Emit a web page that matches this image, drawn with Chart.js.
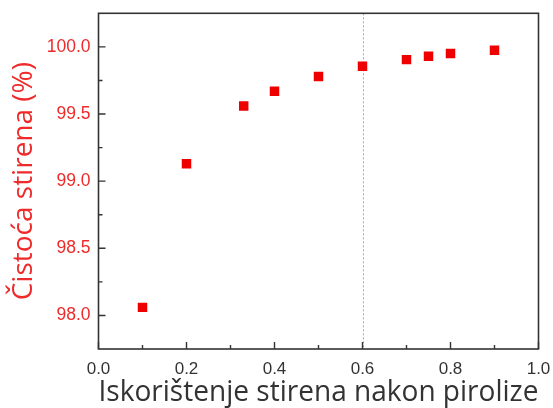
<!DOCTYPE html>
<html><head><meta charset="utf-8">
<script src="https://cdn.jsdelivr.net/npm/chart.js@4"></script>
<style>html,body{margin:0;padding:0;background:#fff}#wrap{width:553px;height:408px}</style>
</head><body><div id="wrap"><canvas id="c"></canvas></div>
<script>
const yieldX = [0.1, 0.2, 0.33, 0.4, 0.5, 0.6, 0.7, 0.75, 0.8, 0.9];
const purity = [98.06, 99.13, 99.56, 99.67, 99.78, 99.855, 99.905, 99.93, 99.95, 99.975];
const xTickLabels = [0.0, 0.2, 0.4, 0.6, 0.8, 1.0];
const xMinorTicks = [0.1, 0.3, 0.5, 0.7, 0.9];
const yTickLabels = [98.0, 98.5, 99.0, 99.5, 100.0];
const yMinorTicks = [98.25, 98.75, 99.25, 99.75];
const refLineX = 0.6;

const RED = '#ee0000';
const TXTRED = '#ee2a2a';
const AX = '#333333';

const framePlugin = {
  id: 'frame',
  beforeDatasetsDraw(chart) {
    const {ctx, chartArea: a, scales: {x}} = chart;
    ctx.save();
    ctx.strokeStyle = '#aaaaaa';
    ctx.lineWidth = 1;
    ctx.setLineDash([2, 2]);
    const px = Math.round(x.getPixelForValue(refLineX)) + 0.5;
    ctx.beginPath(); ctx.moveTo(px, a.top); ctx.lineTo(px, a.bottom); ctx.stroke();
    ctx.restore();
  },
  afterDraw(chart) {
    const {ctx, chartArea: a, scales: {x, y}} = chart;
    ctx.save();
    ctx.strokeStyle = AX;
    ctx.lineWidth = 1.6;
    ctx.strokeRect(a.left, a.top, a.right - a.left, a.bottom - a.top);
    ctx.lineWidth = 1.4;
    ctx.beginPath();
    xTickLabels.forEach(v => { const p = x.getPixelForValue(v); ctx.moveTo(p, a.bottom); ctx.lineTo(p, a.bottom - 7); });
    xMinorTicks.forEach(v => { const p = x.getPixelForValue(v); ctx.moveTo(p, a.bottom); ctx.lineTo(p, a.bottom - 4); });
    yTickLabels.forEach(v => { const p = y.getPixelForValue(v); ctx.moveTo(a.left, p); ctx.lineTo(a.left + 7, p); });
    yMinorTicks.forEach(v => { const p = y.getPixelForValue(v); ctx.moveTo(a.left, p); ctx.lineTo(a.left + 4, p); });
    ctx.stroke();
    ctx.restore();
  }
};

new Chart(document.getElementById('c'), {
  type: 'scatter',
  data: {
    datasets: [{
      data: yieldX.map((v, i) => ({x: v, y: purity[i]})),
      backgroundColor: RED,
      borderColor: RED,
      borderWidth: 0,
      pointStyle: 'rect',
      pointRadius: 6.7,
      pointHoverRadius: 6.7
    }]
  },
  options: {
    responsive: true,
    maintainAspectRatio: false,
    animation: false,
    events: [],
    layout: {padding: {top: 13.3, right: 14.5, left: 0, bottom: 0}},
    plugins: {legend: {display: false}, tooltip: {enabled: false}},
    scales: {
      x: {
        type: 'linear', min: 0, max: 1,
        afterBuildTicks(s) { s.ticks = xTickLabels.map(v => ({value: v})); },
        afterFit(s) { s.height = 59; s.paddingLeft = 0; s.paddingRight = 0; },
        grid: {display: false, drawTicks: false},
        border: {display: false},
        ticks: {padding: 10, color: AX, font: {family: 'Liberation Sans', size: 17}, maxRotation: 0,
          callback: v => Number(v).toFixed(1)},
        title: {display: true, text: 'Iskorištenje stirena nakon pirolize', color: AX,
          font: {family: 'Open Sans', size: 28.4, lineHeight: 1}, padding: {top: 0, bottom: 1}}
      },
      y: {
        type: 'linear', min: 97.75, max: 100.25,
        afterBuildTicks(s) { s.ticks = yTickLabels.map(v => ({value: v})); },
        afterFit(s) { s.width = 98.5; s.paddingTop = 0; s.paddingBottom = 0; },
        grid: {display: false, drawTicks: false},
        border: {display: false},
        ticks: {padding: 8, color: TXTRED, font: {family: 'Liberation Sans', size: 17.5},
          callback: v => Number(v).toFixed(1)},
        title: {display: true, text: 'Čistoća stirena (%)', color: TXTRED,
          font: {family: 'Open Sans', size: 28, lineHeight: 1}, padding: {top: 10, bottom: 0}}
      }
    }
  },
  plugins: [framePlugin]
});
</script></body></html>
